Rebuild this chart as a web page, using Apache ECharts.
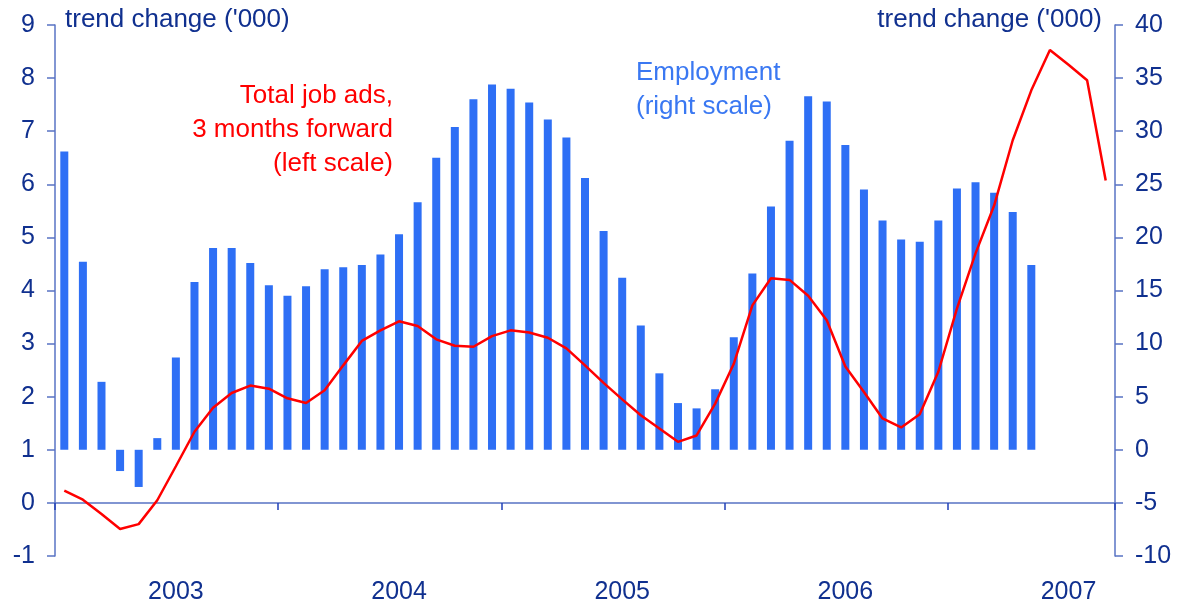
<!DOCTYPE html>
<html>
<head>
<meta charset="utf-8">
<script src="https://cdn.jsdelivr.net/npm/echarts@6/dist/echarts.min.js"></script>
<style>
html,body{margin:0;padding:0;background:#fff;}
#chart{width:1184px;height:607px;}
</style>
</head>
<body>
<div id="chart"></div>
<script>
var years = ['2003','2004','2005','2006','2007'];
var months = ['01','02','03','04','05','06','07','08','09','10','11','12'];
var monthCount = 57;
var categories = [];
for (var i = 0; i < monthCount; i++) {
  categories.push(years[Math.floor(i / 12)] + '-' + months[i % 12]);
}
// Employment, trend change ('000), right scale
var employment = [28.1, 17.7, 6.4, -2.0, -3.5, 1.1, 8.7, 15.8, 19.0, 19.0, 17.6, 15.5,
  14.5, 15.4, 17.0, 17.2, 17.4, 18.4, 20.3, 23.3, 27.5, 30.4, 33.0, 34.4,
  34.0, 32.7, 31.1, 29.4, 25.6, 20.6, 16.2, 11.7, 7.2, 4.4, 3.9, 5.7,
  10.6, 16.6, 22.9, 29.1, 33.3, 32.8, 28.7, 24.5, 21.6, 19.8, 19.6, 21.6,
  24.6, 25.2, 24.2, 22.4, 17.4];
// Total job ads, 3 months forward, trend change ('000), left scale
var jobAds = [0.23, 0.06, -0.21, -0.49, -0.40, 0.05, 0.69, 1.34, 1.79, 2.07, 2.21, 2.15,
  1.97, 1.88, 2.12, 2.59, 3.05, 3.25, 3.42, 3.33, 3.08, 2.96, 2.94, 3.14,
  3.25, 3.21, 3.11, 2.91, 2.59, 2.26, 1.95, 1.65, 1.40, 1.15, 1.27, 1.87,
  2.62, 3.72, 4.23, 4.20, 3.90, 3.44, 2.57, 2.09, 1.59, 1.42, 1.67, 2.47,
  3.66, 4.70, 5.60, 6.83, 7.77, 8.53, 8.25, 7.96, 6.07];

var navy = '#10308f';
var axisCol = '#5873c4';
var tickCol = '#2040b8';
var barCol = '#2e6ff5';
var font = 'Liberation Sans, Arial, sans-serif';

var chart = echarts.init(document.getElementById('chart'), null, {renderer: 'canvas'});
chart.setOption({
  animation: false,
  backgroundColor: '#ffffff',
  grid: {left: 55, right: 69, top: 25, bottom: 51, containLabel: false, outerBoundsMode: 'none'},
  xAxis: [
    {
      type: 'category',
      data: categories,
      boundaryGap: true,
      axisLine: {onZero: true, lineStyle: {color: axisCol, width: 1.5}},
      axisTick: {
        show: true, length: 7, inside: false,
        interval: function (idx) { return idx % 12 === 0; },
        lineStyle: {color: tickCol, width: 1.5}
      },
      axisLabel: {show: false},
      splitLine: {show: false}
    },
    {
      type: 'category',
      data: categories,
      position: 'bottom',
      boundaryGap: true,
      axisLine: {show: false, onZero: false},
      axisTick: {show: false},
      axisLabel: {
        show: true,
        interval: 0,
        formatter: function (v) { return v.slice(5) === '07' ? v.slice(0, 4) : ''; },
        margin: 24,
        color: navy, fontSize: 25, fontFamily: font,
        hideOverlap: false
      },
      splitLine: {show: false}
    }
  ],
  yAxis: [
    {
      type: 'value', position: 'left', min: -1, max: 9, interval: 1,
      axisLine: {show: true, onZero: false, lineStyle: {color: axisCol, width: 1.5}},
      axisTick: {show: true, length: 8, inside: false, lineStyle: {color: axisCol, width: 1.5}},
      axisLabel: {margin: 20, color: navy, fontSize: 25, fontFamily: font},
      splitLine: {show: false}
    },
    {
      type: 'value', position: 'right', min: -10, max: 40, interval: 5,
      axisLine: {show: true, onZero: false, lineStyle: {color: axisCol, width: 1.5}},
      axisTick: {show: true, length: 8, inside: false, lineStyle: {color: axisCol, width: 1.5}},
      axisLabel: {margin: 20, color: navy, fontSize: 25, fontFamily: font},
      splitLine: {show: false}
    }
  ],
  series: [
    {
      name: 'Employment', type: 'bar', xAxisIndex: 0, yAxisIndex: 1, data: employment,
      barWidth: 8, itemStyle: {color: barCol}
    },
    {
      name: 'Total job ads', type: 'line', xAxisIndex: 0, yAxisIndex: 0, data: jobAds,
      showSymbol: false, symbol: 'none', smooth: false,
      lineStyle: {color: '#ff0000', width: 2.5}, z: 5
    }
  ],
  graphic: [
    {type: 'text', x: 65, y: 20, style: {text: "trend change ('000)", fill: navy, font: '26px ' + font, align: 'left', verticalAlign: 'middle'}},
    {type: 'text', x: 1102, y: 20, style: {text: "trend change ('000)", fill: navy, font: '26px ' + font, align: 'right', verticalAlign: 'middle'}},
    {type: 'text', x: 393, y: 96, style: {text: 'Total job ads,', fill: '#ff0000', font: '26px ' + font, align: 'right', verticalAlign: 'middle'}},
    {type: 'text', x: 393, y: 130, style: {text: '3 months forward', fill: '#ff0000', font: '26px ' + font, align: 'right', verticalAlign: 'middle'}},
    {type: 'text', x: 393, y: 164, style: {text: '(left scale)', fill: '#ff0000', font: '26px ' + font, align: 'right', verticalAlign: 'middle'}},
    {type: 'text', x: 636, y: 73, style: {text: 'Employment', fill: '#3a78f2', font: '26px ' + font, align: 'left', verticalAlign: 'middle'}},
    {type: 'text', x: 636, y: 107, style: {text: '(right scale)', fill: '#3a78f2', font: '26px ' + font, align: 'left', verticalAlign: 'middle'}}
  ]
});
</script>
</body>
</html>
